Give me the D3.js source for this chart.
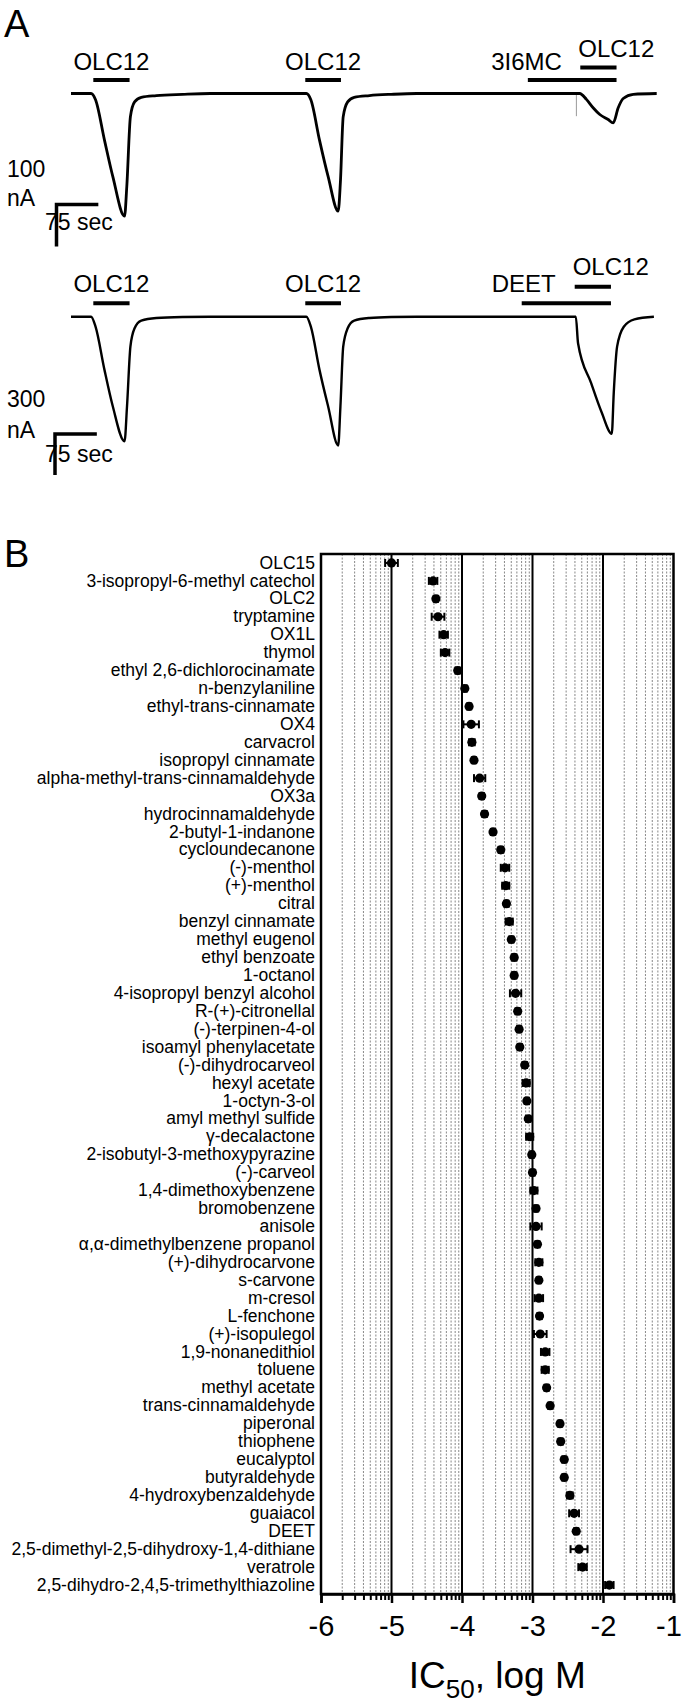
<!DOCTYPE html>
<html><head><meta charset="utf-8">
<script src="https://cdn.jsdelivr.net/npm/d3@7"></script>
<style>
body{margin:0;background:#fff;}
svg{display:block;}
text{font-family:"Liberation Sans",Arial,sans-serif;fill:#000;}
</style></head>
<body>
<script>
// ---------------- Panel A data ----------------
// trace 1 (time s, current nA)
const trace1Time = [0,36,44,60,75,96,100,106.5,114,126,153,200,250,422,430,445.5,461,479,483,488,496,507.7,535,574,620,912,924,936,948,963,972,981,990,1008,1050];
const trace1Curr = [0,0,-15,-111,-198,-292,-222,-55,-20,-9,-5,-2,0,0,-15,-111,-198,-280,-210,-55,-20,-9,-5,-2,0,0,-14,-34,-50,-62,-70,-34,-12,-2,0];
const trace1SpikeTime = [906,906];
const trace1SpikeCurr = [0,-54];
// trace 2
const trace2Time = [0,36,44,60,75,96,100.4,106.5,114,126,153,200,250,422,430,445.5,461,479,483,488,496,507.7,535,574,620,905,909,932.5,951.6,969.5,973,979,991,1010,1045];
const trace2Curr = [0,0,-73,-389,-657,-912,-657,-219,-85,-29,-9.5,-2,0,0,-73,-389,-657,-942,-657,-219,-85,-29,-9.5,-2,0,0,-194,-486,-703,-856,-557,-219,-73,-19,0];
// stimulus bars
const bars1Label = ["OLC12","OLC12","3I6MC","OLC12"];
const bars1Start = [40,420,819,913];
const bars1End   = [105,484,978,978];
const bars1Level = [0,0,0,1];
const bars2Label = ["OLC12","OLC12","DEET","OLC12"];
const bars2Start = [40,420,808,903];
const bars2End   = [105,484,968,968];
const bars2Level = [0,0,0,1];
// scale bars
const scaleTime = 75;
const scale1nA = 100;
const scale2nA = 300;

// ---------------- Panel B data ----------------
const compounds = ["OLC15","3-isopropyl-6-methyl catechol","OLC2","tryptamine","OX1L","thymol","ethyl 2,6-dichlorocinamate","n-benzylaniline","ethyl-trans-cinnamate","OX4","carvacrol","isopropyl cinnamate","alpha-methyl-trans-cinnamaldehyde","OX3a","hydrocinnamaldehyde","2-butyl-1-indanone","cycloundecanone","(-)-menthol","(+)-menthol","citral","benzyl cinnamate","methyl eugenol","ethyl benzoate","1-octanol","4-isopropyl benzyl alcohol","R-(+)-citronellal","(-)-terpinen-4-ol","isoamyl phenylacetate","(-)-dihydrocarveol","hexyl acetate","1-octyn-3-ol","amyl methyl sulfide","γ-decalactone","2-isobutyl-3-methoxypyrazine","(-)-carveol","1,4-dimethoxybenzene","bromobenzene","anisole","α,α-dimethylbenzene propanol","(+)-dihydrocarvone","s-carvone","m-cresol","L-fenchone","(+)-isopulegol","1,9-nonanedithiol","toluene","methyl acetate","trans-cinnamaldehyde","piperonal","thiophene","eucalyptol","butyraldehyde","4-hydroxybenzaldehyde","guaiacol","DEET","2,5-dimethyl-2,5-dihydroxy-1,4-dithiane","veratrole","2,5-dihydro-2,4,5-trimethylthiazoline"];
const logIC50 = [-5.00,-4.41,-4.37,-4.34,-4.26,-4.24,-4.06,-3.96,-3.90,-3.87,-3.86,-3.83,-3.75,-3.72,-3.68,-3.56,-3.45,-3.39,-3.38,-3.37,-3.33,-3.30,-3.26,-3.26,-3.24,-3.21,-3.19,-3.18,-3.11,-3.09,-3.08,-3.06,-3.04,-3.01,-3.00,-2.98,-2.95,-2.95,-2.93,-2.91,-2.91,-2.91,-2.90,-2.89,-2.82,-2.82,-2.80,-2.75,-2.61,-2.60,-2.55,-2.55,-2.47,-2.41,-2.38,-2.34,-2.29,-1.91];
const semIC50 = [0.09,0.06,0.03,0.09,0.06,0.06,0.03,0.03,0.03,0.11,0.04,0.03,0.08,0.03,0.03,0.03,0.03,0.06,0.05,0.03,0.05,0.03,0.03,0.03,0.08,0.03,0.03,0.03,0.03,0.05,0.03,0.03,0.05,0.03,0.03,0.05,0.03,0.08,0.03,0.05,0.03,0.06,0.03,0.09,0.06,0.05,0.03,0.03,0.03,0.03,0.03,0.03,0.04,0.07,0.03,0.12,0.06,0.06];
const xTicks = [-6,-5,-4,-3,-2,-1];
const minorMult = [2,3,4,5,6,7,8,9];

// ---------------- drawing ----------------
const svg = d3.select("body").append("svg").attr("width",685).attr("height",1704);
svg.append("rect").attr("width",685).attr("height",1704).attr("fill","#fff");

// Panel labels
svg.append("text").attr("x",4).attr("y",37).attr("font-size",38).text("A");
svg.append("text").attr("x",4).attr("y",567).attr("font-size",38).text("B");

// Panel A
const xa = d3.scaleLinear().domain([0,1050]).range([71,656.7]);
const ya1 = d3.scaleLinear().domain([-300,0]).range([93.5+126,93.5]);
const ya2 = d3.scaleLinear().domain([-1000,0]).range([316.7+136.7,316.7]);

function drawTrace(times, currs, ys, width, color){
  const pts = times.map((t,i)=>[t,currs[i]]);
  const line = d3.line().x(d=>xa(d[0])).y(d=>ys(d[1])).curve(d3.curveMonotoneX);
  svg.append("path").attr("d",line(pts)).attr("fill","none").attr("stroke",color).attr("stroke-width",width).attr("stroke-linejoin","round");
}
drawTrace(trace1SpikeTime, trace1SpikeCurr, ya1, 1, "#999");
drawTrace(trace1Time, trace1Curr, ya1, 2.8, "#000");
drawTrace(trace2Time, trace2Curr, ya2, 2.4, "#000");

function drawBars(labels, starts, ends, levels, levelY, labelY){
  labels.forEach((lab,i)=>{
    const x0 = xa(starts[i]), x1 = xa(ends[i]);
    const yb = levelY[levels[i]];
    svg.append("line").attr("x1",x0).attr("x2",x1).attr("y1",yb).attr("y2",yb).attr("stroke","#000").attr("stroke-width",4);
    let tx, anchor;
    if (levels[i]===1){ tx = x0-2; anchor="start"; }
    else if (i===2){ tx = x0+34; anchor="end"; }
    else { tx=(x0+x1)/2; anchor="middle"; }
    svg.append("text").attr("x",tx).attr("y",labelY[levels[i]]).attr("text-anchor",anchor).attr("font-size",24).text(lab);
  });
}
drawBars(bars1Label,bars1Start,bars1End,bars1Level,[80,67.5],[70,56.5]);
drawBars(bars2Label,bars2Start,bars2End,bars2Level,[303.3,286.7],[291.7,275]);

function drawScale(cx, cy, ys, nA, valTxt, yVal, yNA, yTime){
  const h = ys(0)-ys(-nA);
  const w = xa(scaleTime)-xa(0);
  svg.append("path").attr("d",`M${cx},${cy-h}L${cx},${cy}L${cx+w},${cy}`).attr("fill","none").attr("stroke","#000").attr("stroke-width",3.5);
  svg.append("text").attr("x",7).attr("y",yVal).attr("font-size",23).text(valTxt);
  svg.append("text").attr("x",7).attr("y",yNA).attr("font-size",23).text("nA");
  svg.append("text").attr("x",45).attr("y",yTime).attr("font-size",23).text(scaleTime+" sec");
}
drawScale(56.5,204.5,ya1,scale1nA,String(scale1nA),177,206,230);
drawScale(55,434,ya2,scale2nA,String(scale2nA),407,438,462);

// Panel B
const x = d3.scaleLinear().domain([-6,-1]).range([321,673.5]);
const y = d3.scaleBand().domain(compounds).range([554,1594]).padding(0);
const yTop = 554, yBottom = 1594;
const minorVals = [];
xTicks.slice(0,-1).forEach(n=>minorMult.forEach(k=>minorVals.push(n+Math.log10(k))));

const gB = svg.append("g");
gB.selectAll("line.minor").data(minorVals).join("line")
  .attr("x1",d=>x(d)).attr("x2",d=>x(d)).attr("y1",yTop).attr("y2",yBottom)
  .attr("stroke","#888").attr("stroke-width",1).attr("stroke-dasharray","2,1.5");
gB.selectAll("line.major").data(xTicks.slice(1,-1)).join("line")
  .attr("x1",d=>x(d)).attr("x2",d=>x(d)).attr("y1",yTop).attr("y2",yBottom)
  .attr("stroke","#000").attr("stroke-width",2);

// frame
gB.append("rect").attr("x",x(-6)).attr("y",yTop).attr("width",x(-1)-x(-6)).attr("height",yBottom-yTop)
  .attr("fill","none").attr("stroke","#000").attr("stroke-width",2.5);

// axes
const axMinor = svg.append("g").attr("transform",`translate(0,${yBottom})`)
  .call(d3.axisBottom(x).tickValues(minorVals).tickSize(6).tickFormat(""));
axMinor.select(".domain").remove();
axMinor.selectAll("line").attr("stroke-width",2);
const ax = svg.append("g").attr("transform",`translate(0,${yBottom})`)
  .call(d3.axisBottom(x).tickValues(xTicks).tickSize(9).tickPadding(12).tickFormat(d=>String(d)));
ax.select(".domain").attr("stroke-width",2.5);
ax.selectAll("line").attr("stroke-width",2.5);
ax.selectAll("text").attr("font-size",29).attr("font-family","Liberation Sans, Arial, sans-serif").attr("fill","#000")
  .attr("dx",d=>d===-1?"-5":"0");

// compound labels
const yl = d3.axisLeft(y).tickSize(0).tickPadding(6);
const ayl = svg.append("g").attr("transform",`translate(${x(-6)},0)`).call(yl);
ayl.select(".domain").remove();
ayl.selectAll("text").attr("font-size",17.5).attr("font-family","Liberation Sans, Arial, sans-serif").attr("fill","#000");

// error bars and dots
const rows = compounds.map((c,i)=>({c, v:logIC50[i], e:semIC50[i]}));
const gp = svg.append("g");
rows.forEach(r=>{
  const cy = y(r.c)+y.bandwidth()/2;
  const xl = x(r.v-r.e), xr = x(r.v+r.e);
  gp.append("line").attr("x1",xl).attr("x2",xr).attr("y1",cy).attr("y2",cy).attr("stroke","#000").attr("stroke-width",2);
  [xl,xr].forEach(xx=>gp.append("line").attr("x1",xx).attr("x2",xx).attr("y1",cy-4).attr("y2",cy+4).attr("stroke","#000").attr("stroke-width",2));
  gp.append("circle").attr("cx",x(r.v)).attr("cy",cy).attr("r",4.6).attr("fill","#000");
});

// x label
const xt = svg.append("text").attr("x",(x(-6)+x(-1))/2).attr("y",1688).attr("text-anchor","middle").attr("font-size",37);
xt.append("tspan").text("IC");
xt.append("tspan").attr("font-size",26).attr("dy",10).text("50");
xt.append("tspan").attr("dy",-10).text(", log M");
</script>
</body></html>
